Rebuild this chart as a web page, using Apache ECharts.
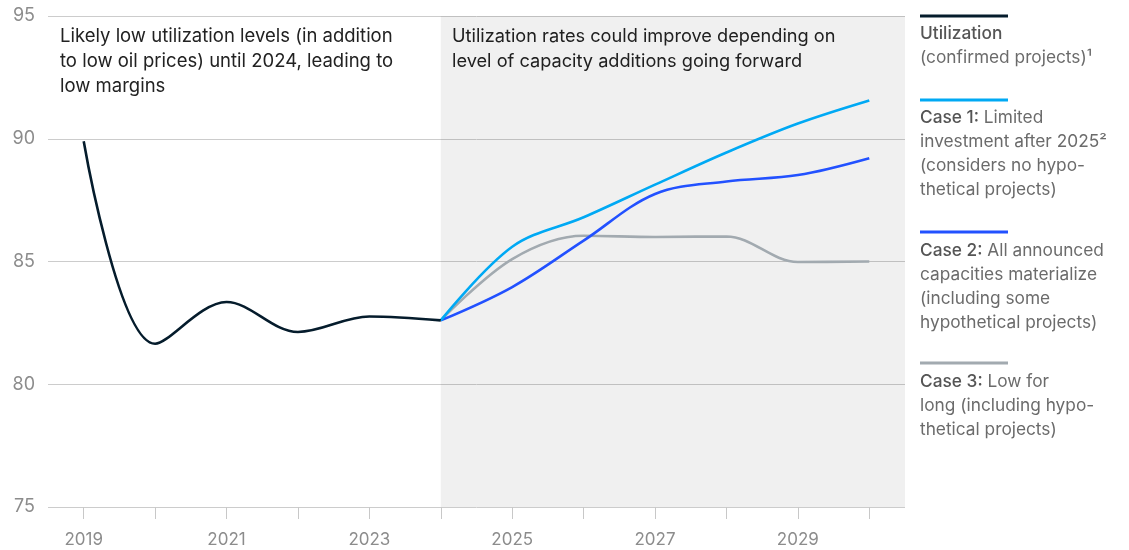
<!DOCTYPE html>
<html>
<head>
<meta charset="utf-8">
<script src="https://cdn.jsdelivr.net/npm/echarts@6/dist/echarts.min.js"></script>
<style>html,body{margin:0;padding:0;background:#fff}#c{width:1129px;height:550px}</style>
</head>
<body>
<div id="c"></div>
<script>
// ---- data ----
var histYears = [2019, 2020, 2021, 2022, 2023, 2024];
var utilization = [89.9, 81.65, 83.35, 82.13, 82.76, 82.6];
var caseYears = [2024, 2025, 2026, 2027, 2028, 2029, 2030];
var case1 = [82.6, 85.6, 86.8, 88.13, 89.44, 90.62, 91.56];
var case2 = [82.6, 83.96, 85.85, 87.75, 88.26, 88.52, 89.21];
var case3 = [82.6, 85.1, 86.05, 86.0, 86.02, 84.98, 85.0];
var yTicks = [75, 80, 85, 90, 95];
var xTickYears = [2019, 2020, 2021, 2022, 2023, 2024, 2025, 2026, 2027, 2028, 2029, 2030];
var xLabelYears = [2019, 2021, 2023, 2025, 2027, 2029];
var forecastStart = 2024;
var annotLeft = 'Likely low utilization levels (in addition\nto low oil prices) until 2024, leading to\nlow margins';
var annotRight = 'Utilization rates could improve depending on\nlevel of capacity additions going forward';

function pairs(xs, ys) { return xs.map(function (x, i) { return [x, ys[i]]; }); }

var FONT = 'Inter, "Liberation Sans", Arial, sans-serif';
var chart = echarts.init(document.getElementById('c'));

var legendItems = [
  { color: '#051c2c', y: 16, top: 22, text: '{b|Utilization}\n(confirmed projects)¹' },
  { color: '#00a9f4', y: 100, top: 106, text: '{b|Case 1:} Limited\ninvestment after 2025²\n(considers no hypo-\nthetical projects)' },
  { color: '#2251ff', y: 232, top: 239, text: '{b|Case 2:} All announced\ncapacities materialize\n(including some\nhypothetical projects)' },
  { color: '#a2aab0', y: 363, top: 370, text: '{b|Case 3:} Low for\nlong (including hypo-\nthetical projects)' }
];
var graphics = [];
legendItems.forEach(function (it) {
  graphics.push({ type: 'line', shape: { x1: 920, y1: it.y, x2: 1008, y2: it.y }, style: { stroke: it.color, lineWidth: 3 } });
  graphics.push({ type: 'text', left: 920, top: it.top, style: {
    text: it.text, fill: '#6b6b6b', font: '17.3px ' + FONT, lineHeight: 24,
    rich: { b: { fill: '#555', fontWeight: 500, fontSize: 17.3, fontFamily: FONT, lineHeight: 24 } }
  } });
});
graphics.push({ type: 'text', left: 60, top: 24, style: { text: annotLeft, fill: '#222', font: '18.5px ' + FONT, lineHeight: 25 } });
graphics.push({ type: 'text', left: 452, top: 24, style: { text: annotRight, fill: '#222', font: '18.2px ' + FONT, lineHeight: 25 } });

var lineBase = { type: 'line', smooth: 0.35, symbol: 'none', lineStyle: { width: 2.6 }, z: 3 };

chart.setOption({
  animation: false,
  grid: { left: 48, right: 224, top: 16, bottom: 43 },
  xAxis: {
    type: 'value', min: 2018.5, max: 2030.5,
    axisLine: { show: false },
    splitLine: { show: false },
    axisTick: { show: true, length: 12, lineStyle: { color: '#c8c8c8' }, customValues: xTickYears },
    axisLabel: { customValues: xLabelYears, color: '#8c8c8c', fontSize: 17, fontFamily: FONT, margin: 24, formatter: function (v) { return String(v); } }
  },
  yAxis: {
    type: 'value', min: 75, max: 95, interval: 5,
    axisLine: { show: false }, axisTick: { show: false },
    splitLine: { show: true, lineStyle: { color: '#cccccc', width: 1 } },
    axisLabel: { color: '#8c8c8c', fontSize: 18, fontFamily: FONT, margin: 13 }
  },
  series: [
    Object.assign({}, lineBase, {
      name: 'Utilization', data: pairs(histYears, utilization), color: '#051c2c', z: 5,
      markArea: { silent: true, itemStyle: { color: 'rgba(0,0,0,0.06)' }, data: [[{ xAxis: forecastStart }, { xAxis: 2030.5 }]] }
    }),
    Object.assign({}, lineBase, { name: 'Case 3', data: pairs(caseYears, case3), color: '#a2aab0' }),
    Object.assign({}, lineBase, { name: 'Case 2', data: pairs(caseYears, case2), color: '#2251ff' }),
    Object.assign({}, lineBase, { name: 'Case 1', data: pairs(caseYears, case1), color: '#00a9f4' })
  ],
  graphic: graphics
});
</script>
</body>
</html>
